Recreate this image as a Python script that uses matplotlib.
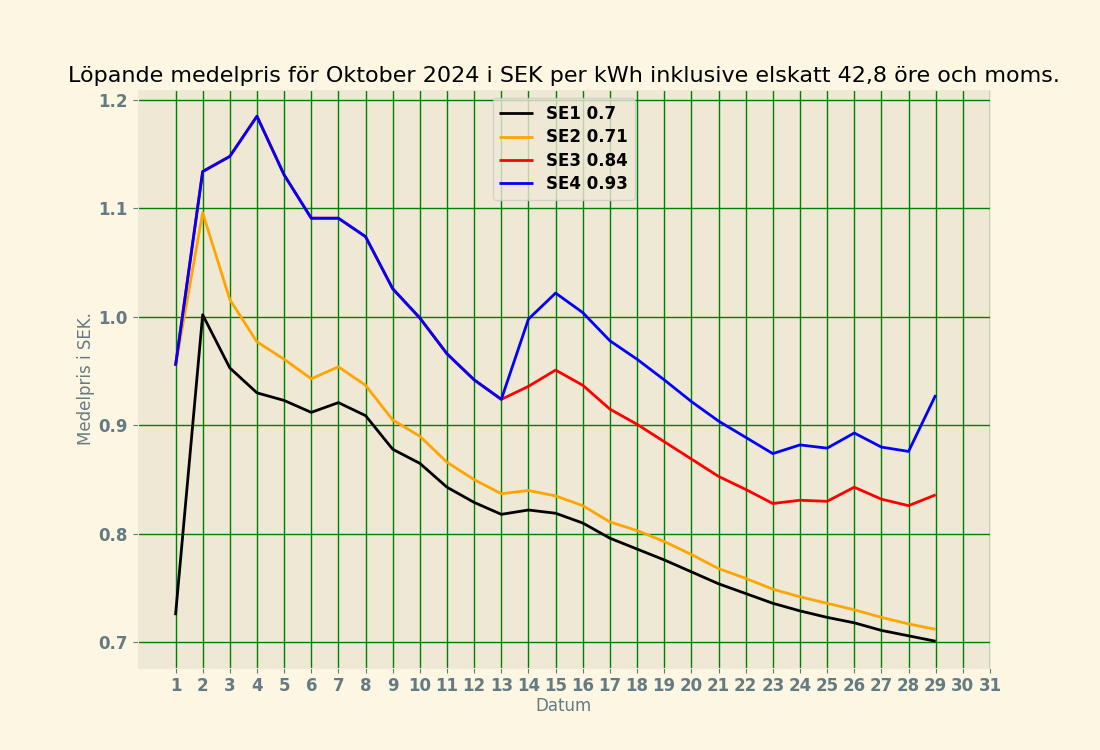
import numpy as np
import matplotlib
matplotlib.use('Agg')
import matplotlib.pyplot as plt

plt.style.use('Solarize_Light2')

days = list(range(1, 30))

se1 = [0.725, 1.002, 0.953, 0.930, 0.923, 0.912, 0.921, 0.909, 0.878, 0.865,
       0.843, 0.829, 0.818, 0.822, 0.819, 0.810, 0.796, 0.786, 0.776, 0.765,
       0.754, 0.745, 0.736, 0.729, 0.723, 0.718, 0.711, 0.706, 0.701]
se2 = [0.955, 1.096, 1.016, 0.977, 0.961, 0.943, 0.954, 0.937, 0.905, 0.890,
       0.866, 0.850, 0.837, 0.840, 0.835, 0.826, 0.811, 0.803, 0.793, 0.781,
       0.768, 0.759, 0.749, 0.742, 0.736, 0.730, 0.723, 0.717, 0.712]
se3 = [0.955, 1.134, 1.148, 1.185, 1.131, 1.091, 1.091, 1.074, 1.026, 0.999,
       0.966, 0.942, 0.924, 0.936, 0.951, 0.937, 0.915, 0.901, 0.885, 0.869,
       0.853, 0.841, 0.828, 0.831, 0.830, 0.843, 0.832, 0.826, 0.836]
se4 = [0.955, 1.134, 1.148, 1.185, 1.131, 1.091, 1.091, 1.074, 1.026, 0.999,
       0.966, 0.942, 0.924, 0.998, 1.022, 1.004, 0.978, 0.961, 0.942, 0.922,
       0.904, 0.889, 0.874, 0.882, 0.879, 0.893, 0.880, 0.876, 0.928]

labels = ['SE1 0.7', 'SE2 0.71', 'SE3 0.84', 'SE4 0.93']
colors = ['black', 'orange', 'red', 'blue']

fig, ax = plt.subplots(figsize=(11, 7.5), dpi=100)

for vals, lab, col in zip([se1, se2, se3, se4], labels, colors):
    ax.plot(days, vals, color=col, linewidth=2, label=lab)

ax.set_xticks(range(1, 32))
ax.grid(True, color='green', linewidth=1)
ax.tick_params(labelsize=12)
for t in ax.get_xticklabels() + ax.get_yticklabels():
    t.set_fontweight('bold')

ax.set_title('Löpande medelpris för Oktober 2024 i SEK per kWh inklusive elskatt 42,8 öre och moms.',
             fontsize=16, color='black')
ax.set_xlabel('Datum', fontsize=12, labelpad=1)
ax.set_ylabel('Medelpris i SEK.', fontsize=12, labelpad=2.5)

leg = ax.legend(loc='upper center', prop={'weight': 'bold', 'size': 12},
                labelspacing=0.32)
for t in leg.get_texts():
    t.set_color('black')

fig.savefig('out.png')
